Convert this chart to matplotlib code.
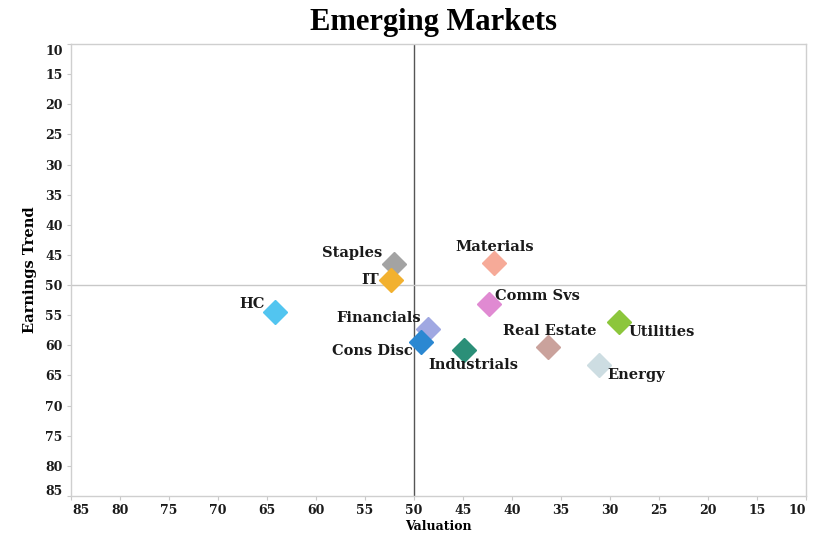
import matplotlib
matplotlib.use("Agg")
import matplotlib.pyplot as plt
from matplotlib.transforms import ScaledTranslation

sectors = ["Staples", "IT", "HC", "Financials", "Cons Disc", "Industrials",
           "Materials", "Comm Svs", "Real Estate", "Utilities", "Energy"]
valuation = [52.0, 52.3, 64.2, 48.6, 49.3, 44.9, 41.8, 42.4, 36.3, 29.1, 31.1]
earnings = [46.5, 49.2, 54.5, 57.3, 59.5, 60.7, 46.4, 53.2, 60.2, 56.2, 63.3]
colors = ["#a3a3a3", "#f2b12f", "#52c5f0", "#a0a8e2", "#2b88d2", "#2b8f78",
          "#f6aa98", "#e08ad2", "#caa29c", "#8cc63c", "#cddde2"]
# label offsets (points) and alignment for each sector
label_pos = [((-9, 8), "right"), ((-9, 0), "right"), ((-7, 6), "right"),
             ((-5, 8), "right"), ((-6, -6), "right"), ((7, -11), "center"),
             ((0, 12), "center"), ((5, 6), "left"), ((1, 11), "center"),
             ((7, -7), "left"), ((6, -7), "left")]
x_ticks = list(range(10, 90, 5))
y_ticks = list(range(10, 90, 5))

serif = ["DejaVu Serif"]
title_font = ["Liberation Serif", "DejaVu Serif"]

fig = plt.figure(figsize=(8.23, 5.36), dpi=100)
ax = fig.add_axes([0.0863, 0.0746, 0.8931, 0.8434])

ax.axvline(50, color="#555555", lw=1.0, zorder=1)
ax.axhline(50, color="#c8c8c8", lw=1.0, zorder=1)

for name, xv, yv, c, (off, ha) in zip(sectors, valuation, earnings, colors, label_pos):
    ax.plot(xv, yv, marker="D", ms=12, color=c, mec=c, ls="none", zorder=3)
    ax.annotate(name, (xv, yv), xytext=off, textcoords="offset points",
                ha=ha, va="center", fontsize=10.5, fontweight="bold",
                family=serif, color="#1a1a1a", zorder=4)

ax.set_xlim(85, 10)
ax.set_ylim(85, 10)
ax.set_xticks(x_ticks)
ax.set_yticks(y_ticks)
ax.set_xticklabels([str(v) for v in x_ticks], fontsize=9, fontweight="bold", family=serif)
ax.set_yticklabels([str(v) for v in y_ticks], fontsize=9, fontweight="bold", family=serif)
ax.tick_params(axis="both", length=3, width=0.8, color="#c8c8c8", pad=3, labelcolor="#1a1a1a")

# nudge the end labels inward so they stay inside the frame
dpi_tr = fig.dpi_scale_trans
for lab in ax.get_xticklabels():
    if lab.get_text() == "85":
        lab.set_transform(lab.get_transform() + ScaledTranslation(10 / 100, 0, dpi_tr))
    elif lab.get_text() == "10":
        lab.set_transform(lab.get_transform() + ScaledTranslation(-9 / 100, 0, dpi_tr))
for lab in ax.get_yticklabels():
    if lab.get_text() == "10":
        lab.set_transform(lab.get_transform() + ScaledTranslation(0, -6 / 100, dpi_tr))
    elif lab.get_text() == "85":
        lab.set_transform(lab.get_transform() + ScaledTranslation(0, 6 / 100, dpi_tr))

for sp in ax.spines.values():
    sp.set_color("#cfcfcf")
    sp.set_linewidth(1.0)

ax.set_xlabel("Valuation", fontsize=9, fontweight="bold", family=serif, labelpad=2)
ax.set_ylabel("Earnings Trend", fontsize=10.5, fontweight="bold", family=serif, labelpad=6)
fig.text(0.527, 0.958, "Emerging Markets", ha="center", va="center",
         fontsize=22, fontweight="bold", family=title_font)

fig.savefig("out.png", dpi=100)
